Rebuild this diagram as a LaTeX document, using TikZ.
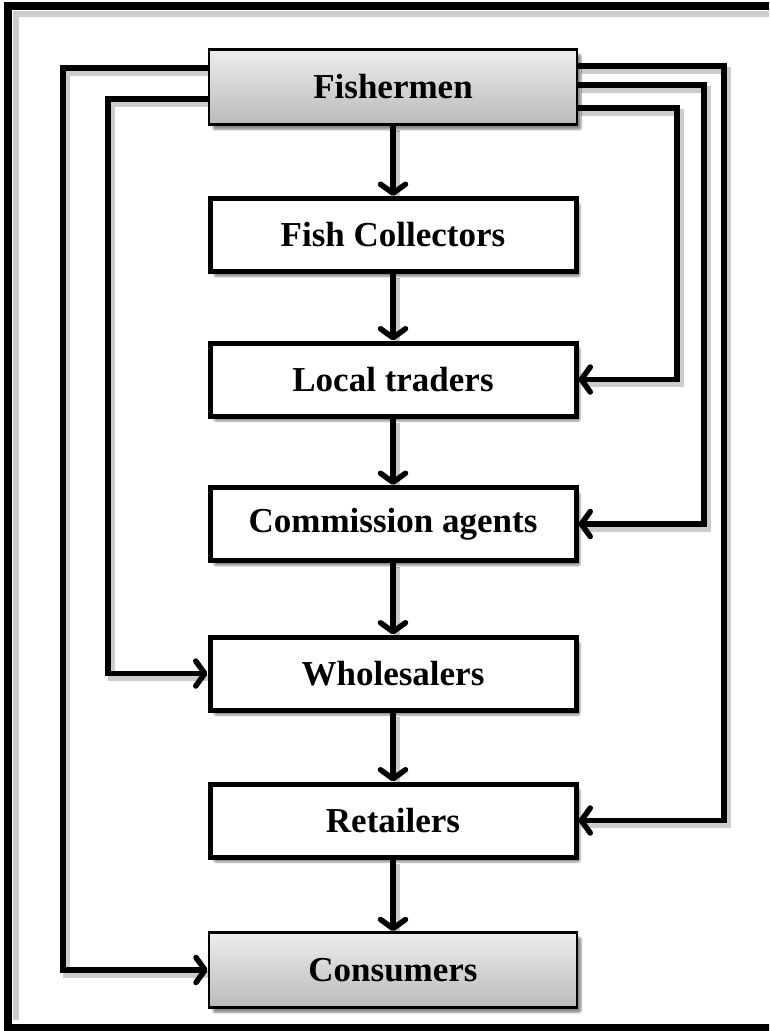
\documentclass[tikz,border=0pt]{standalone}
\usepackage{fontspec}
\setmainfont{Liberation Serif}
\usetikzlibrary{arrows.meta,shadows,shadows.blur,calc,backgrounds}
\tikzset{
  box/.style={draw=black, line width=5pt, fill=white, minimum width=366pt, minimum height=73pt,
    inner sep=0pt, font=\fontsize{35}{40}\selectfont\bfseries,
    blur shadow={shadow xshift=4pt, shadow yshift=-5pt, shadow opacity=45, shadow blur steps=6, shadow blur extra rounding=2pt}},
  endbox/.style={box, line width=2.5pt, minimum width=368pt, minimum height=75pt, top color=black!7, bottom color=black!27},
  conn/.style={line width=5.5pt, line join=miter, -{Straight Barb[length=9pt,width=25pt,round]}},
  lshade/.style={line width=7pt, draw=black!20, line join=miter},
}
\begin{document}
\begin{tikzpicture}[x=1pt,y=-1pt]
\useasboundingbox (0,0) rectangle (769,1031);
\clip (0,0) rectangle (769,1031);
% frame shadow and frame
\draw[line width=6pt, black!20] (780,14) -- (16,14) -- (16,1020);
\draw[line width=8pt] (790,6) -- (8,6) -- (8,1028) -- (790,1028);

\node[endbox] (fish) at (393,87) {Fishermen};
\node[box] (coll) at (393,235) {Fish Collectors};
\node[box] (local) at (393,379.5) {Local traders};
\node[box] (comm) at (393,524) {Commission agents};
\node[box] (whole) at (393,673.5) {Wholesalers};
\node[box] (ret) at (393,820.5) {Retailers};
\node[endbox] (cons) at (393,970) {Consumers};

% bend points
\coordinate (l1) at ($(fish.west)+(0,-19)$);
\coordinate (l2) at ($(fish.west)+(0,12)$);
\coordinate (r1) at ($(fish.east)+(0,-21)$);
\coordinate (r2) at ($(fish.east)+(0,-2)$);
\coordinate (r3) at ($(fish.east)+(0,21)$);
\coordinate (lc) at (63,0);
\coordinate (lw) at (108,0);
\coordinate (rr) at (724,0);
\coordinate (rc) at (704,0);
\coordinate (rl) at (677,0);

% connector shadows, behind everything
\begin{pgfonlayer}{background}
\begin{scope}[transform canvas={shift={(3pt,-4pt)}}]
\draw[lshade] (l1) -| (lc |- cons.west) -- (cons.west);
\draw[lshade] (l2) -| (lw |- whole.west) -- (whole.west);
\draw[lshade] (r1) -| (rr |- ret.east) -- (ret.east);
\draw[lshade] (r2) -| (rc |- comm.east) -- (comm.east);
\draw[lshade] (r3) -| (rl |- local.east) -- (local.east);
\draw[lshade] (fish.south) -- (coll.north);
\draw[lshade] (coll.south) -- (local.north);
\draw[lshade] (local.south) -- (comm.north);
\draw[lshade] (comm.south) -- (whole.north);
\draw[lshade] (whole.south) -- (ret.north);
\draw[lshade] (ret.south) -- (cons.north);
\end{scope}
\end{pgfonlayer}

% vertical chain
\draw[conn] (fish) -- (coll);
\draw[conn] (coll) -- (local);
\draw[conn] (local) -- (comm);
\draw[conn] (comm) -- (whole);
\draw[conn] (whole) -- (ret);
\draw[conn] (ret) -- (cons);

% side routes
\draw[conn] (l1) -| (lc |- cons.west) -- (cons.west);
\draw[conn] (l2) -| (lw |- whole.west) -- (whole.west);
\draw[conn] (r1) -| (rr |- ret.east) -- (ret.east);
\draw[conn] (r2) -| (rc |- comm.east) -- (comm.east);
\draw[conn] (r3) -| (rl |- local.east) -- (local.east);
\end{tikzpicture}
\end{document}
